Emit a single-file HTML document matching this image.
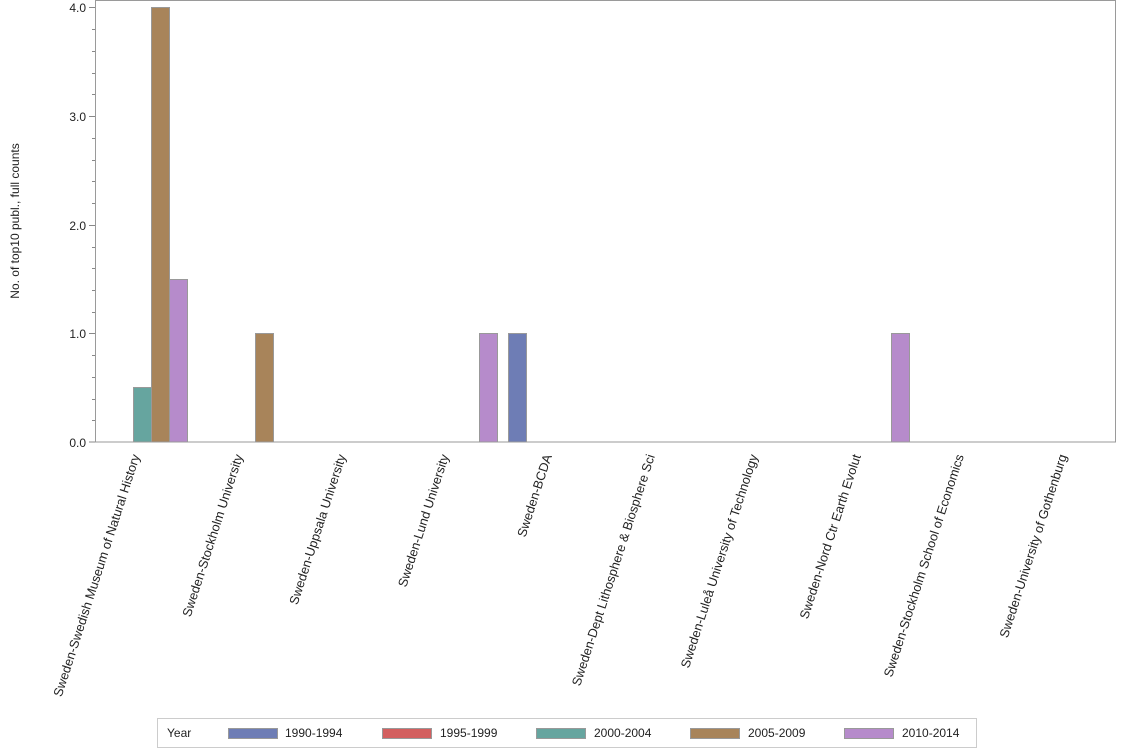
<!DOCTYPE html>
<html><head><meta charset="utf-8"><style>
html,body{margin:0;padding:0;background:#fff;}
svg{display:block;font-family:"Liberation Sans",Arial,sans-serif;}
</style></head><body>
<svg width="1134" height="756" xmlns="http://www.w3.org/2000/svg">
<rect x="95.5" y="0.5" width="1020" height="441.5" fill="#fff" stroke="#9a9a9a"/>
<g stroke="#888" stroke-width="1">
<line x1="89" y1="7.5" x2="95" y2="7.5"/><line x1="89" y1="116.5" x2="95" y2="116.5"/>
<line x1="89" y1="225.5" x2="95" y2="225.5"/><line x1="89" y1="333.5" x2="95" y2="333.5"/>
<line x1="89" y1="442" x2="95" y2="442"/>
</g>
<g font-size="12" fill="#222" text-anchor="end">
<text x="86" y="12">4.0</text><text x="86" y="121">3.0</text><text x="86" y="230">2.0</text><text x="86" y="338">1.0</text><text x="86" y="447">0.0</text>
</g>
<text font-size="12" fill="#222" transform="translate(19,221) rotate(-90)" text-anchor="middle">No. of top10 publ., full counts</text>
<g stroke="#999" stroke-width="1">
<rect x="133.5" y="387.5" width="18" height="54.5" fill="#66a59f"/>
<rect x="151.5" y="7.5" width="18" height="434.5" fill="#a8845a"/>
<rect x="169.5" y="279.5" width="18" height="162.5" fill="#b68bcb"/>
<rect x="255.5" y="333.5" width="18" height="108.5" fill="#a8845a"/>
<rect x="479.5" y="333.5" width="18" height="108.5" fill="#b68bcb"/>
<rect x="508.5" y="333.5" width="18" height="108.5" fill="#6e7db5"/>
<rect x="891.5" y="333.5" width="18" height="108.5" fill="#b68bcb"/>
</g>
<g font-size="12.8" fill="#222" text-anchor="end">
<text transform="translate(140,456) rotate(-72)">Sweden-Swedish Museum of Natural History</text>
<text transform="translate(243,456) rotate(-72)">Sweden-Stockholm University</text>
<text transform="translate(346,456) rotate(-72)">Sweden-Uppsala University</text>
<text transform="translate(449,456) rotate(-72)">Sweden-Lund University</text>
<text transform="translate(552,456) rotate(-72)">Sweden-BCDA</text>
<text transform="translate(655,456) rotate(-72)">Sweden-Dept Lithosphere &amp; Biosphere Sci</text>
<text transform="translate(758,456) rotate(-72)">Sweden-Luleå University of Technology</text>
<text transform="translate(861,456) rotate(-72)">Sweden-Nord Ctr Earth Evolut</text>
<text transform="translate(964,456) rotate(-72)">Sweden-Stockholm School of Economics</text>
<text transform="translate(1067,456) rotate(-72)">Sweden-University of Gothenburg</text>
</g>
<rect x="157.5" y="718.5" width="819" height="29" fill="#fff" stroke="#ccc"/>
<g font-size="12" fill="#222">
<text x="167" y="737">Year</text>
<rect x="228.5" y="728.5" width="49" height="10" fill="#6e7db5" stroke="#999"/><text x="285" y="737">1990-1994</text>
<rect x="382.5" y="728.5" width="49" height="10" fill="#d35f5f" stroke="#999"/><text x="440" y="737">1995-1999</text>
<rect x="536.5" y="728.5" width="49" height="10" fill="#66a59f" stroke="#999"/><text x="594" y="737">2000-2004</text>
<rect x="690.5" y="728.5" width="49" height="10" fill="#a8845a" stroke="#999"/><text x="748" y="737">2005-2009</text>
<rect x="844.5" y="728.5" width="49" height="10" fill="#b68bcb" stroke="#999"/><text x="902" y="737">2010-2014</text>
</g>
<g stroke="#888">
<line x1="92" y1="29.5" x2="95" y2="29.5"/><line x1="92" y1="51.5" x2="95" y2="51.5"/><line x1="92" y1="73.5" x2="95" y2="73.5"/><line x1="92" y1="94.5" x2="95" y2="94.5"/>
<line x1="92" y1="138.5" x2="95" y2="138.5"/><line x1="92" y1="160.5" x2="95" y2="160.5"/><line x1="92" y1="181.5" x2="95" y2="181.5"/><line x1="92" y1="203.5" x2="95" y2="203.5"/>
<line x1="92" y1="247.5" x2="95" y2="247.5"/><line x1="92" y1="268.5" x2="95" y2="268.5"/><line x1="92" y1="290.5" x2="95" y2="290.5"/><line x1="92" y1="312.5" x2="95" y2="312.5"/>
<line x1="92" y1="355.5" x2="95" y2="355.5"/><line x1="92" y1="377.5" x2="95" y2="377.5"/><line x1="92" y1="399.5" x2="95" y2="399.5"/><line x1="92" y1="420.5" x2="95" y2="420.5"/>
</g>
</svg>
</body></html>
